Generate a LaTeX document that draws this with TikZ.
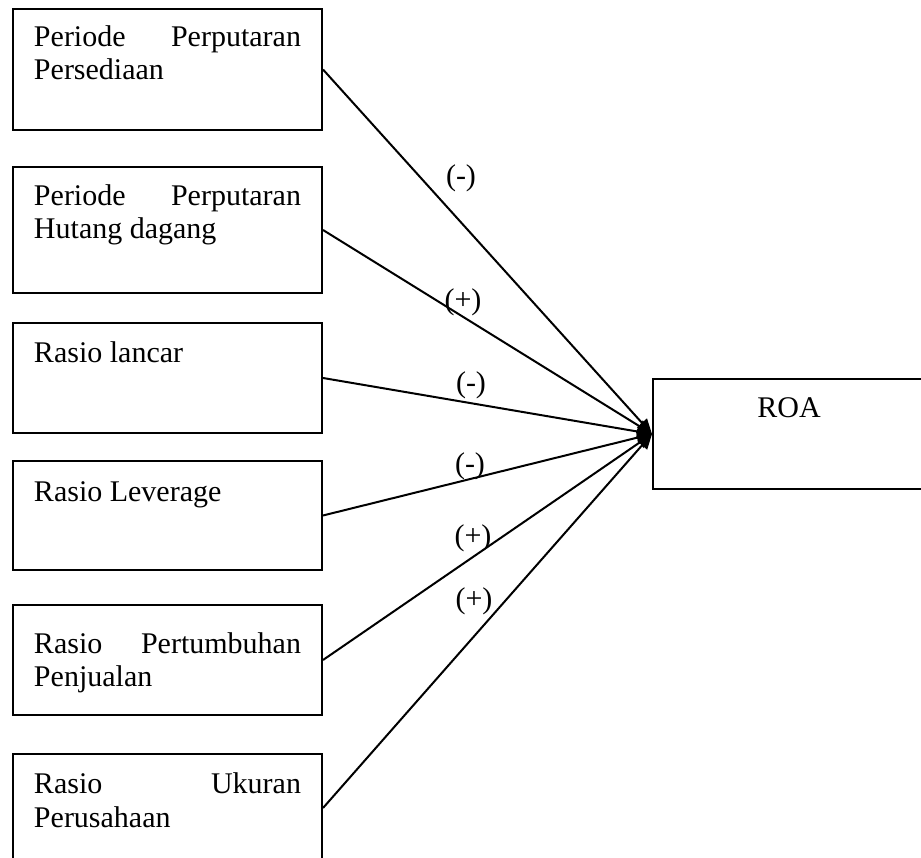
\documentclass[tikz,border=0pt]{standalone}
\usepackage{fontspec}
\setmainfont{Liberation Serif}
\usetikzlibrary{arrows.meta}
\hyphenpenalty=10000
\tolerance=9999

\begin{document}
\begin{tikzpicture}[x=0.4pt, y=-0.4pt,
        var/.style={draw, line width=0.8pt, anchor=north west, text width=106.8pt, align=justify,
            inner xsep=8.4pt, inner ysep=0pt, font=\fontsize{12}{13.2}\selectfont},
        pengaruh/.style={line width=0.8pt, -{Triangle[length=6pt,width=5.2pt]}},
        tanda/.style={font=\fontsize{12}{14}\selectfont, inner sep=0pt}]
        \useasboundingbox (0,0) rectangle (921,858);
        \node[var, text height=15.1pt, text depth=33.3pt] (persediaan) at (12,8) {Periode Perputaran Persediaan};
        \node[var, text height=15.6pt, text depth=34.8pt] (hutang) at (12,166) {Periode Perputaran Hutang dagang};
        \node[var, text height=15.9pt, text depth=28.1pt] (lancar) at (12,322) {Rasio lancar};
        \node[var, text height=16.3pt, text depth=27.3pt] (leverage) at (12,460) {Rasio Leverage};
        \node[var, text height=19.6pt, text depth=24.4pt] (penjualan) at (12,604) {Rasio Pertumbuhan Penjualan};
        \node[var, text height=16pt, text depth=27.2pt] (ukuran) at (12,753) {Rasio Ukuran Perusahaan};
        \node[draw, line width=0.8pt, anchor=north west, minimum width=108.8pt, inner sep=0pt,
            text height=15.6pt, text depth=28.4pt, font=\fontsize{12}{13.2}\selectfont] (roa) at (652,378) {ROA};
        \draw[pengaruh] (persediaan.east) -- (roa.west);
        \draw[pengaruh] (hutang.east) -- (roa.west);
        \draw[pengaruh] (lancar.east) -- (roa.west);
        \draw[pengaruh] (leverage.east) -- (roa.west);
        \draw[pengaruh] (penjualan.east) -- (roa.west);
        \draw[pengaruh] (ukuran.east) -- (roa.west); %tanda
        \node[tanda] (t1) at (461,178) {(-)};
        \node[tanda] (t2) at (463,302) {(+)};
        \node[tanda] (t3) at (471,385) {(-)};
        \node[tanda] (t4) at (470,466) {(-)};
        \node[tanda] (t5) at (473,538) {(+)};
        \node[tanda] (t6) at (474,601) {(+)};
    \end{tikzpicture}
\end{document}
